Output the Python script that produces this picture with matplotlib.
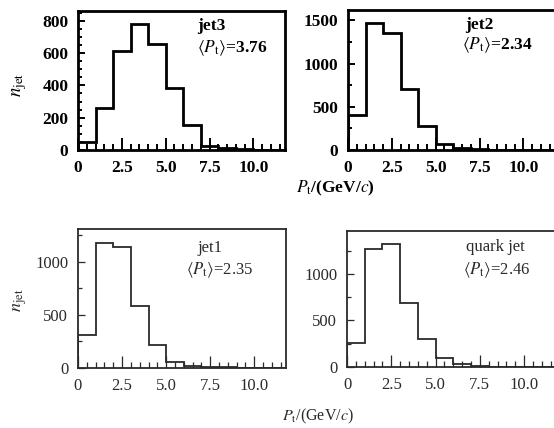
import numpy as np
import matplotlib
matplotlib.use("Agg")
import matplotlib.pyplot as plt
from matplotlib.ticker import MultipleLocator

plt.rcParams['font.family'] = ['Liberation Serif', 'DejaVu Serif']
plt.rcParams['mathtext.fontset'] = 'stix'

# bin edges in GeV/c (width 1)
edges = np.arange(0, 13, 1)

# counts per bin
jet3 = [50, 260, 610, 780, 655, 385, 155, 25, 10, 5, 0, 0]
jet2 = [400, 1470, 1350, 710, 280, 70, 20, 10, 5, 0, 0, 0]
jet1 = [310, 1175, 1140, 580, 220, 60, 20, 10, 5, 0, 0, 0]
quark = [260, 1270, 1320, 690, 300, 100, 30, 10, 5, 0, 0, 0]

names = ["jet3", "jet2", "jet1", "quark jet"]
means = ["3.76", "2.34", "2.35", "2.46"]
ylims = [860, 1620, 1310, 1460]
ymajor = [200, 500, 500, 500]
yminor = [50, 250, 250, 250]

W, H = 554, 428
fig = plt.figure(figsize=(W / 100, H / 100), dpi=100)

# pixel boxes: left, top, right, bottom
boxes = [(78, 11, 285, 150), (348, 10, 555, 150),
         (78, 229, 286, 368), (347, 231, 556, 367)]
label_pos = [((0.575, 0.895), (0.575, 0.735)), ((0.565, 0.895), (0.55, 0.745)),
             ((0.575, 0.86), (0.52, 0.705)), ((0.567, 0.885), (0.557, 0.715))]

for i, data in enumerate([jet3, jet2, jet1, quark]):
    l, t, r, b = boxes[i]
    ax = fig.add_axes([l / W, 1 - b / H, (r - l) / W, (b - t) / H])
    top = i < 2
    col = 'black' if top else '#2a2a2a'
    lw = 2.0 if top else 1.3
    wt = 'bold' if top else 'normal'
    fs = 12.5 if top else 12

    ax.stairs(data, edges, color=col, lw=lw, baseline=0)
    ax.set_xlim(0, 11.8)
    ax.set_ylim(0, ylims[i])

    ax.xaxis.set_major_locator(MultipleLocator(2.5))
    ax.xaxis.set_minor_locator(MultipleLocator(0.5))
    ax.yaxis.set_major_locator(MultipleLocator(ymajor[i]))
    ax.yaxis.set_minor_locator(MultipleLocator(yminor[i]))
    ax.set_xticks([0, 2.5, 5.0, 7.5, 10.0])
    ax.set_xticklabels(["0", "2.5", "5.0", "7.5", "10.0"])

    ax.tick_params(which='both', direction='in', top=False, right=False,
                   color=col, width=lw * 0.7, labelcolor=col, labelsize=fs)
    ax.tick_params(which='major', length=9, pad=7)
    ax.tick_params(which='minor', length=4.5)
    ax.tick_params(axis='y', which='major', length=5)
    ax.tick_params(axis='y', which='minor', length=3)
    for lab in ax.get_xticklabels() + ax.get_yticklabels():
        lab.set_fontweight(wt)
    for sp in ax.spines.values():
        sp.set_color(col)
        sp.set_linewidth(lw)

    (nx, ny), (mx, my) = label_pos[i]
    ax.text(nx, ny, names[i], transform=ax.transAxes, fontsize=fs,
            fontweight=wt, color=col, va='center', ha='left')
    ax.text(mx, my, r'$\langle P_{\rm t}\rangle$=' + means[i], transform=ax.transAxes,
            fontsize=fs, fontweight=wt, color=col, va='center', ha='left')

# axis titles
fig.text(20 / W, 1 - 85 / H, r'$n_{\rm jet}$', rotation=90, fontsize=13.5,
         ha='center', va='center')
fig.text(20 / W, 1 - 300 / H, r'$n_{\rm jet}$', rotation=90, fontsize=13,
         ha='center', va='center', color='#2a2a2a')
fig.text(335 / W, 1 - 188 / H, r'$P_{\rm t}$/(GeV/$c$)', fontsize=12.5,
         fontweight='bold', ha='center', va='center')
fig.text(318 / W, 1 - 416 / H, r'$P_{\rm t}$/(GeV/$c$)', fontsize=11.5,
         ha='center', va='center', color='#2a2a2a')

fig.savefig("out.png", dpi=100)
